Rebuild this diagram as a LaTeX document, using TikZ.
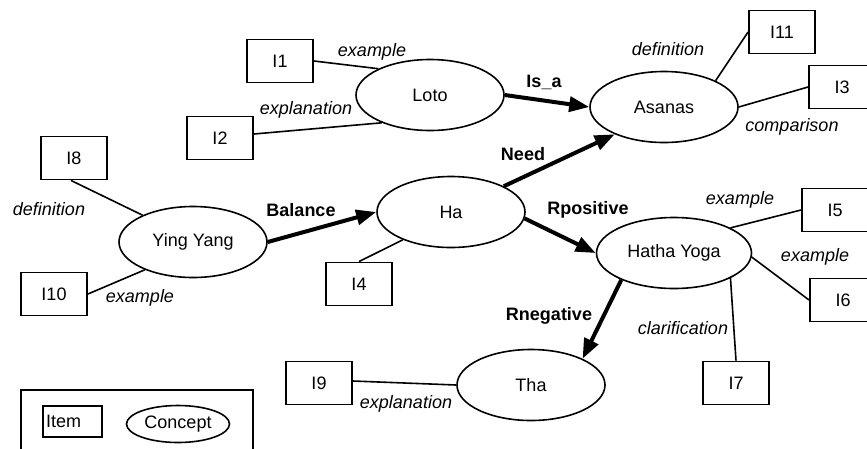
\documentclass[tikz,border=0pt]{standalone}
\usepackage{fontspec}
\setmainfont{Liberation Sans}
\usetikzlibrary{arrows.meta,shapes.geometric}

\begin{document}
\begin{tikzpicture}[x=1pt,y=-1pt,
  font=\fontsize{18}{21}\selectfont,
  item/.style={draw,line width=1.9pt,minimum width=66pt,minimum height=43pt,inner sep=0pt},
  concept/.style={draw,ellipse,line width=1.6pt,minimum width=148pt,minimum height=71pt,inner sep=0pt},
  link/.style={line width=1.6pt},
  rel/.style={line width=4pt,-{Triangle[length=20pt,width=15pt]}},
  lbl/.style={font=\fontsize{18}{21}\selectfont\itshape,inner sep=0pt},
  rlbl/.style={font=\fontsize{18}{21}\selectfont\bfseries,inner sep=0pt},
]
\path[use as bounding box] (0,0) rectangle (867,448);
\clip (0,0) rectangle (867,448);

% concepts
\node[concept] (loto)   at (430,95)  {Loto};
\node[concept] (asanas) at (664,107) {Asanas};
\node[concept] (ha)     at (451,212) {Ha};
\node[concept] (ying)   at (193,242) {Ying Yang};
\node[concept,minimum width=155pt] (hatha) at (674,253) {Hatha Yoga};
\node[concept] (tha)    at (531,385) {Tha};

% items
\node[item] (i1)  at (280,61)  {I1};
\node[item] (i2)  at (220,138) {I2};
\node[item] (i8)  at (74,158)  {I8};
\node[item] (i10) at (54,294)  {I10};
\node[item] (i4)  at (359,284) {I4};
\node[item] (i9)  at (319,383) {I9};
\node[item] (i11) at (782,32)  {I11};
\node[item] (i3)  at (842,87)  {I3};
\node[item] (i5)  at (835,210) {I5};
\node[item] (i6)  at (843,300) {I6};
\node[item] (i7)  at (736,383) {I7};

% item links
\draw[link] (i1.east) -- (loto.153);
\draw[link] ([yshift=4pt]i2.east) -- (loto.210);
\draw[link] ([xshift=-3pt]i8.south) -- (ying.152);
\draw[link] (i10.east) -- (ying.210);
\draw[link] (i4.north) -- (ha.210);
\draw[link] ([yshift=2pt]i9.east) -- (tha.west);
\draw[link] (asanas.27) -- (i11.west);
\draw[link] (asanas.east) -- (i3.west);
\draw[link] (hatha.24) -- (i5.west);
\draw[link] (hatha.-3) -- (i6.west);
\draw[link] (hatha.-24) -- (i7.north);

% relations
\draw[rel] (loto.east) -- (asanas.west);
\draw[rel] (ha.26) -- (asanas.209);
\draw[rel] (ying.east) -- (ha.west);
\draw[rel] (ha.-5) -- (hatha.west);
\draw[rel] (hatha.207) -- (tha.27);

% link labels
\node[lbl] (l1)  at (372,52)  {example};
\node[lbl] (l2)  at (306,110) {explanation};
\node[lbl] (l3)  at (49,209)  {definition};
\node[lbl] (l4)  at (140,298) {example};
\node[lbl] (l5)  at (668,49)  {definition};
\node[lbl] (l6)  at (792,127) {comparison};
\node[lbl] (l7)  at (740,200) {example};
\node[lbl] (l8)  at (815,257) {example};
\node[lbl] (l9)  at (683,328) {clarification};
\node[lbl] (l10) at (406,404) {explanation};

% relation labels
\node[rlbl] (r1) at (544,82)  {Is\_a};
\node[rlbl] (r2) at (523,154) {Need};
\node[rlbl] (r3) at (301,210) {Balance};
\node[rlbl] (r4) at (588,210) {Rpositive};
\node[rlbl] (r5) at (549,316) {Rnegative};

% legend
\node[draw,line width=1.9pt,minimum width=232pt,minimum height=80pt,inner sep=0pt] (legend) at (137,430) {};
\node[draw,line width=1.9pt,text width=53pt,inner xsep=3pt,inner ysep=0pt,minimum height=31pt,align=left] (legitem) at (72.5,421.5) {Item};
\node[draw,ellipse,line width=1.6pt,minimum width=103pt,minimum height=37pt,inner sep=0pt] (legconcept) at (178,424) {Concept};
\end{tikzpicture}
\end{document}
